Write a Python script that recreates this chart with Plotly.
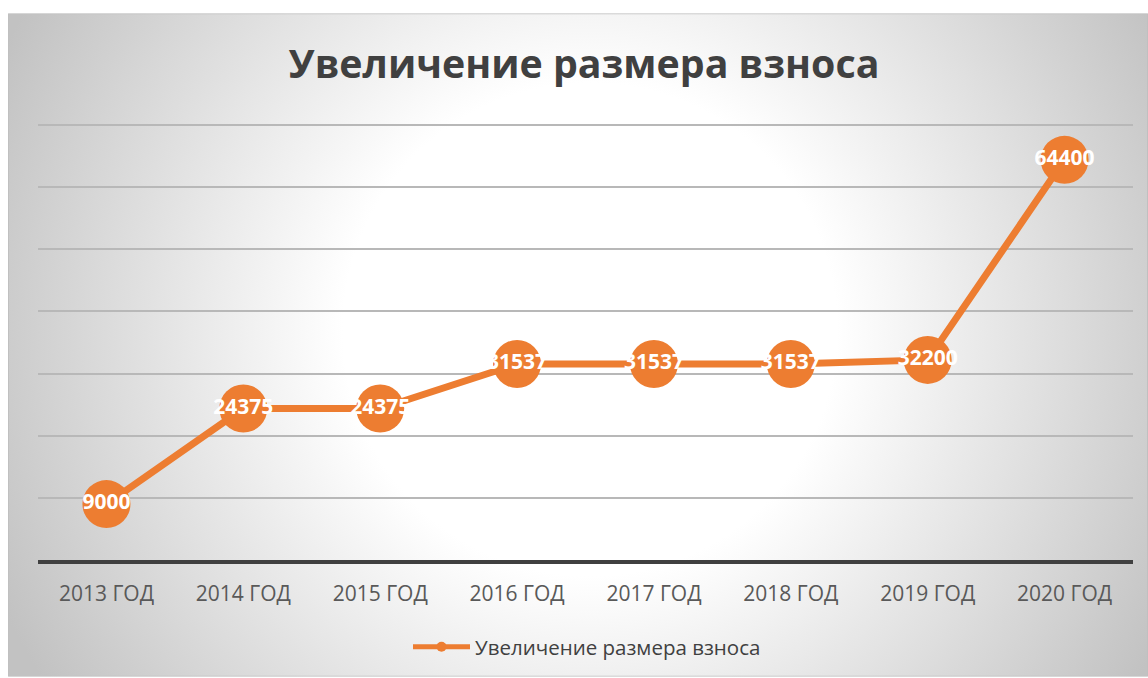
import base64
import plotly.graph_objects as go

categories = ["2013 ГОД", "2014 ГОД", "2015 ГОД", "2016 ГОД", "2017 ГОД", "2018 ГОД", "2019 ГОД", "2020 ГОД"]
values = [9000, 24375, 24375, 31537, 31537, 31537, 32200, 64400]
series_name = "Увеличение размера взноса"
title_text = "Увеличение размера взноса"

ORANGE = "#ED7D31"
W, H = 1148, 678
ml, mr, mt, mb = 38, 15, 123, 117
pw, ph = W - ml - mr, H - mt - mb
ytop = 70000 * (H - mb - mt) / (H - mb - 125)

svg = (
    '<svg xmlns="http://www.w3.org/2000/svg" width="1140" height="665" viewBox="0 0 1140 665" preserveAspectRatio="none">'
    '<defs><radialGradient id="g" gradientUnits="userSpaceOnUse" cx="582" cy="317" r="650">'
    '<stop offset="0" stop-color="#ffffff"/>'
    '<stop offset="0.38" stop-color="#ffffff"/>'
    '<stop offset="1" stop-color="#c2c2c2"/>'
    '</radialGradient></defs>'
    '<rect x="0.5" y="0.5" width="1139" height="664" fill="url(#g)" stroke="#c0c0c0" stroke-width="1"/>'
    '</svg>'
)
src = "data:image/svg+xml;base64," + base64.b64encode(svg.encode()).decode()

box_x0, box_y0 = 8, 13
img = dict(
    source=src, xref="paper", yref="paper",
    x=(box_x0 - ml) / pw, y=(H - mb - box_y0) / ph,
    sizex=(W - box_x0) / pw, sizey=(H - box_y0) / ph,
    xanchor="left", yanchor="top", sizing="stretch", layer="below",
)

fig = go.Figure()
fig.add_trace(go.Scatter(
    x=categories, y=values, mode="lines+markers+text",
    text=[str(v) for v in values], textposition="middle center",
    textfont=dict(family="Open Sans", size=21, color="white", weight="bold"),
    line=dict(color=ORANGE, width=7),
    marker=dict(color=ORANGE, size=48),
    showlegend=False, cliponaxis=False, hoverinfo="skip",
))
fig.add_trace(go.Scatter(
    x=[None], y=[None], mode="lines+markers", name=series_name,
    line=dict(color=ORANGE, width=5), marker=dict(color=ORANGE, size=10),
    showlegend=True,
))

fig.update_layout(
    width=W, height=H,
    margin=dict(l=ml, r=mr, t=mt, b=mb, pad=0),
    paper_bgcolor="white", plot_bgcolor="rgba(0,0,0,0)",
    images=[img],
    title=dict(text="<b>" + title_text + "</b>", xref="container", yref="container",
               x=584 / W, y=1 - 64 / H, xanchor="center", yanchor="middle",
               font=dict(family="Open Sans", size=39.3, color="#404040")),
    xaxis=dict(showgrid=False, showline=True, linecolor="#404040", linewidth=4,
               ticks="", ticklabelstandoff=12,
               tickfont=dict(family="Open Sans", size=21, color="#595959"),
               range=[-0.5, 7.5], fixedrange=True),
    yaxis=dict(range=[0, ytop], tick0=0, dtick=10000, showticklabels=False,
               gridcolor="#b8b8b8", gridwidth=1.5, zeroline=False, showline=False),
    legend=dict(orientation="h", x=(587 - ml) / pw, y=(H - mb - 647) / ph,
                xanchor="center", yanchor="middle", bgcolor="rgba(0,0,0,0)",
                itemwidth=57,
                font=dict(family="Open Sans", size=20.5, color="#404040")),
)

fig.write_html("out.html", config={"displayModeBar": False},
               post_script="document.body.style.margin='0px';")
